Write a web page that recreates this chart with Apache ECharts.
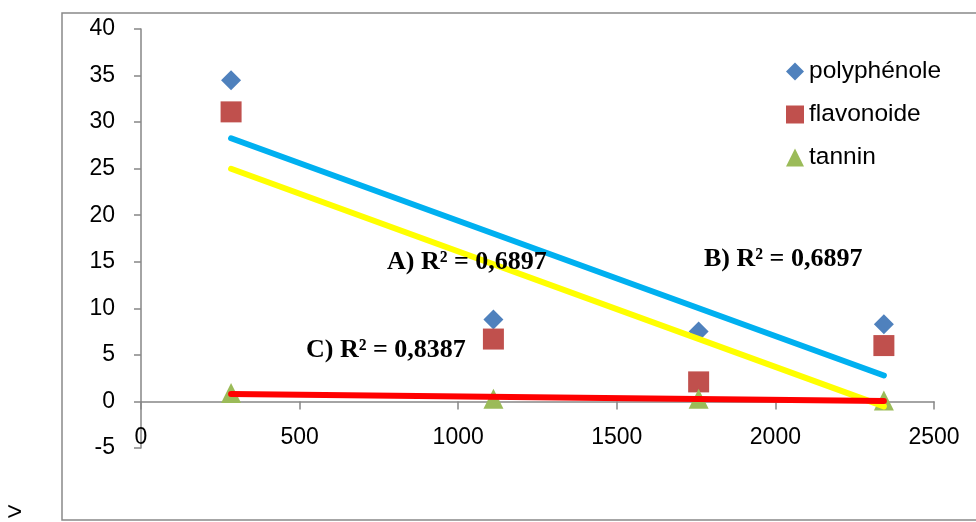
<!DOCTYPE html>
<html>
<head>
<meta charset="utf-8">
<script src="https://cdn.jsdelivr.net/npm/echarts@6/dist/echarts.min.js"></script>
<style>html,body{margin:0;padding:0;background:#fff}#c{width:976px;height:522px}</style>
</head>
<body>
<div id="c"></div>
<script>
const xValues = [284, 1111, 1758, 2342];
const polyphenole = [34.5, 8.8, 7.5, 8.3];
const flavonoide = [31.1, 6.7, 2.1, 6.0];
const tannin = [0.9, 0.3, 0.3, 0.1];
const seriesNames = ['polyphénole', 'flavonoide', 'tannin'];
const r2Labels = ['A) R² = 0,6897', 'B) R² = 0,6897', 'C) R² = 0,8387'];
const cornerMark = '>';

function pairs(xs, ys) { return xs.map((x, i) => [x, ys[i]]); }
function trend(xs, ys) {
  const n = xs.length;
  const mx = xs.reduce((a, b) => a + b, 0) / n;
  const my = ys.reduce((a, b) => a + b, 0) / n;
  let sxy = 0, sxx = 0;
  for (let i = 0; i < n; i++) { sxy += (xs[i] - mx) * (ys[i] - my); sxx += (xs[i] - mx) ** 2; }
  const b = sxy / sxx, a = my - b * mx;
  const x0 = Math.min(...xs), x1 = Math.max(...xs);
  return [[x0, a + b * x0], [x1, a + b * x1]];
}

const chart = echarts.init(document.getElementById('c'), null, {renderer: 'canvas'});
const axisColor = '#868686';
const labelFont = 'Liberation Sans';
const textFont = 'bold 26px "Liberation Serif", serif';

const option = {
  animation: false,
  backgroundColor: '#fff',
  grid: {left: 141, right: 42, top: 29, bottom: 74},
  xAxis: {
    type: 'value', min: 0, max: 2500, interval: 500,
    axisLine: {show: true, onZero: true, lineStyle: {color: axisColor, width: 1.5}},
    axisTick: {show: true, length: 8, lineStyle: {color: axisColor, width: 1.5}},
    axisLabel: {color: '#000', fontSize: 23, fontFamily: labelFont, margin: -22,
                formatter: v => String(v)},
    splitLine: {show: false}
  },
  yAxis: {
    type: 'value', min: -5, max: 40, interval: 5,
    axisLine: {show: true, onZero: false, lineStyle: {color: axisColor, width: 1.5}},
    axisTick: {show: true, length: 7, lineStyle: {color: axisColor, width: 1.5}},
    axisLabel: {color: '#000', fontSize: 23, fontFamily: labelFont, margin: 26},
    splitLine: {show: false}
  },
  legend: {
    orient: 'vertical', left: 781, top: 54, itemWidth: 18, itemHeight: 18, itemGap: 18,
    textStyle: {color: '#000', fontSize: 24.5, fontFamily: labelFont},
    data: seriesNames
  },
  series: [
    {name: seriesNames[0], type: 'scatter', symbol: 'diamond', symbolSize: 20,
     itemStyle: {color: '#4F81BD', opacity: 1}, data: pairs(xValues, polyphenole), z: 2},
    {name: seriesNames[1], type: 'scatter', symbol: 'rect', symbolSize: 21,
     itemStyle: {color: '#C0504D', opacity: 1}, data: pairs(xValues, flavonoide), z: 2},
    {name: seriesNames[2], type: 'scatter', symbol: 'triangle', symbolSize: 20,
     itemStyle: {color: '#9BBB59', opacity: 1}, data: pairs(xValues, tannin), z: 2},
    {type: 'line', showSymbol: false, silent: true, z: 3, data: trend(xValues, polyphenole),
     lineStyle: {color: '#00B0F0', width: 6, cap: 'round'}},
    {type: 'line', showSymbol: false, silent: true, z: 3, data: trend(xValues, flavonoide),
     lineStyle: {color: '#FFFF00', width: 6, cap: 'round'}},
    {type: 'line', showSymbol: false, silent: true, z: 3, data: trend(xValues, tannin),
     lineStyle: {color: '#FF0000', width: 6, cap: 'round'}}
  ],
  graphic: [
    {type: 'rect', shape: {x: 62, y: 13, width: 1000, height: 507}, z: -10,
     style: {fill: 'none', stroke: '#898989', lineWidth: 1.5}},
    {type: 'text', x: 387, y: 262, z: 10, style: {text: r2Labels[0], font: textFont, fill: '#000', verticalAlign: 'middle'}},
    {type: 'text', x: 704, y: 259, z: 10, style: {text: r2Labels[1], font: textFont, fill: '#000', verticalAlign: 'middle'}},
    {type: 'text', x: 306, y: 350, z: 10, style: {text: r2Labels[2], font: textFont, fill: '#000', verticalAlign: 'middle'}},
    {type: 'text', x: 7, y: 500, style: {text: cornerMark, font: '26px "Liberation Sans", sans-serif', fill: '#000', verticalAlign: 'top'}}
  ]
};
chart.setOption(option);
</script>
</body>
</html>
